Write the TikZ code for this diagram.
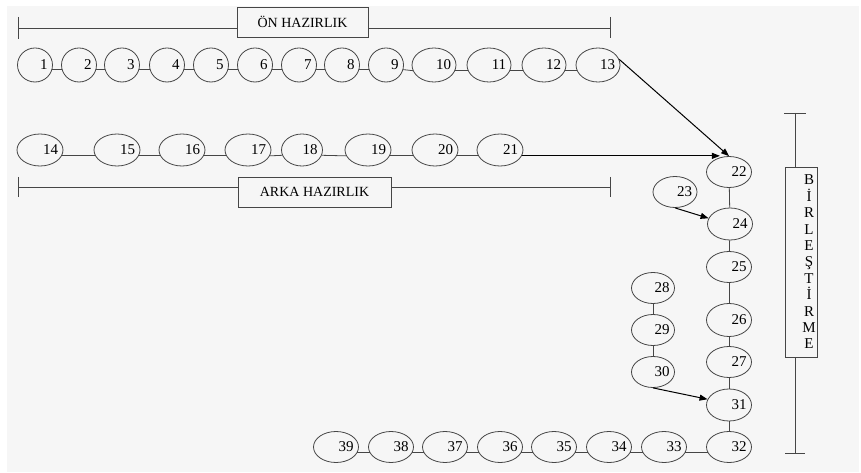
\documentclass[tikz,border=0pt]{standalone}
\usepackage{fontspec}
\setmainfont{Liberation Serif}
\usetikzlibrary{arrows.meta,shapes.geometric}
\definecolor{paper}{RGB}{246,246,246}
\definecolor{ink}{RGB}{70,70,70}

\begin{document}
\begin{tikzpicture}[x=1pt,y=-1pt,
  op/.style={draw=ink, ellipse, inner sep=0pt, line width=0.8pt,
    minimum width=45pt, minimum height=31pt,
    label={[anchor=east, xshift=-5pt, inner sep=0pt,
            font=\fontsize{15}{15}\selectfont]0:#1}},
  small/.style={minimum width=35pt, minimum height=34pt},
  tall/.style={minimum width=44pt, minimum height=34pt},
  con/.style={draw=ink, line width=0.8pt},
  br/.style={draw=ink, line width=0.9pt},
  arr/.style={draw=black, line width=1pt, -{Triangle[length=8pt,width=6pt]}},
  tag/.style={draw=ink, fill=paper, line width=0.8pt, inner sep=0pt,
    font=\fontsize{14}{14}\selectfont}]

% canvas
\useasboundingbox (0,0) rectangle (861,473);
\fill[white] (0,0) rectangle (861,473);
\fill[paper] (7,6) rectangle (859,472);

% front preparation bracket
\coordinate (onL) at (18,28);
\coordinate (onR) at (610,28);
\draw[br] (onL) -- (onR);
\draw[br] (onL) ++(0,-11) -- ++(0,22);
\draw[br] (onR) ++(0,-11) -- ++(0,21);
\node[tag, minimum width=131pt, minimum height=30pt] (onbox) at (302.5,22) {ÖN HAZIRLIK};

% back preparation bracket
\coordinate (arL) at (18,187);
\coordinate (arR) at (610,187);
\draw[br] (arL) -- (arR);
\draw[br] (arL) ++(0,-10) -- ++(0,20);
\draw[br] (arR) ++(0,-10) -- ++(0,20);
\node[tag, minimum width=153pt, minimum height=30pt] (arbox) at (314.5,192) {ARKA HAZIRLIK};

% assembly bracket
\coordinate (biT) at (795,113);
\coordinate (biB) at (795,453);
\draw[br] (biT) -- (biB);
\draw[br] (biT) ++(-11,0) -- ++(22,0);
\draw[br] (biB) ++(-10,0) -- ++(20,0);
\node[tag, minimum width=32pt, minimum height=190pt,
  label={[xshift=8pt, align=center, inner sep=0pt,
          font=\fontsize{15}{16.4}\selectfont]center:{B\\İ\\R\\L\\E\\Ş\\T\\İ\\R\\M\\E}}]
  (bibox) at (801,262) {};

% operations 1-13
\foreach \i/\x in {1/35,2/79,3/122,4/167,5/211,6/255,7/299,8/342,9/386}
  \node[op=\i, small] (n\i) at (\x,65) {};
\foreach \i/\x in {10/434,11/489,12/544,13/598}
  \node[op=\i, tall] (n\i) at (\x,65) {};

% operations 14-21
\foreach \i/\x in {14/40,15/117,16/182,17/248,19/368,20/435,21/500}
  \node[op=\i, minimum width=46pt, minimum height=32pt] (n\i) at (\x,150) {};
\node[op=18, minimum width=41pt, minimum height=32pt] (n18) at (302,150) {};

% assembly column
\node[op=22] (n22) at (729,172) {};
\node[op=23, minimum width=44pt] (n23) at (675,192) {};
\node[op=24, minimum height=32pt] (n24) at (730,224) {};
\node[op=25] (n25) at (729,267) {};
\node[op=26, minimum height=33pt] (n26) at (729,320) {};
\node[op=27] (n27) at (729,362) {};
\node[op=31, minimum height=32pt] (n31) at (729,405) {};
\node[op=32] (n32) at (729,447) {};
\node[op=28, minimum width=43pt] (n28) at (653,288) {};
\node[op=29, minimum width=43pt] (n29) at (653,330) {};
\node[op=30, minimum width=43pt] (n30) at (653,372) {};

% operations 33-39
\foreach \i/\x in {33/664,34/609,35/554,36/500,37/445,38/391,39/336}
  \node[op=\i] (n\i) at (\x,447) {};

% chains
\foreach \a/\b in {1/2,2/3,3/4,4/5,5/6,6/7,7/8,8/9,9/10,10/11,11/12,12/13,
                   14/15,15/16,16/17,17/18,18/19,19/20,20/21,
                   39/38,38/37,37/36,36/35,35/34,34/33,33/32}
  \draw[con] (n\a.-15) -- (n\b.195);
\foreach \a/\b in {22/24,24/25,25/26,26/27,27/31,31/32,28/29,29/30}
  \draw[con] (n\a) -- (n\b);

% feeds into the assembly column
\draw[arr] (n13.15) -- (n22.north);
\draw[arr] (n21.-15) -- (n21.-15 -| n22.122);
\draw[arr] (n23.south) -- (n24.165);
\draw[arr] (n30.south) -- (n31.165);
\end{tikzpicture}
\end{document}
